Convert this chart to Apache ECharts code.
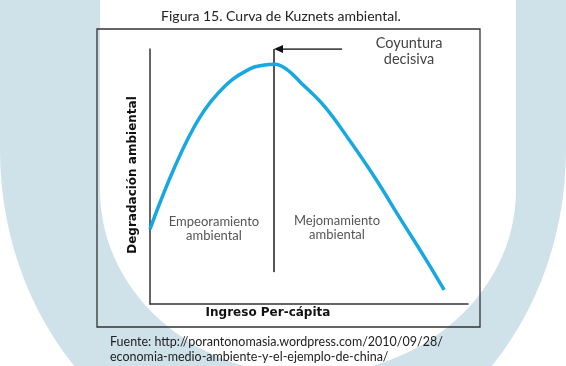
<!DOCTYPE html>
<html><head><meta charset="utf-8">
<script src="https://cdn.jsdelivr.net/npm/echarts@6/dist/echarts.min.js"></script>
<style>html,body{margin:0;padding:0;background:#fff}#c{width:566px;height:366px}</style>
</head><body><div id="c"></div>
<script>
// Curve (x: ingreso per cápita, y: degradación ambiental), arbitrary 0-100 units
const curveX = [0, 7.9, 15.7, 23.6, 31.4, 35.5, 39.3, 43.1, 47.2, 55.0, 62.9, 70.8, 78.6, 86.5, 92.5];
const curveY = [29.4, 54.1, 73.3, 85.5, 92.2, 93.6, 94.0, 91.9, 87.1, 77.3, 63.9, 49.4, 33.7, 18.0, 5.5];
// "Coyuntura decisiva" turning line and arrow
const turnX = [39, 39];
const turnY = [12.5, 100];
const arrowX = [60.4, 40.4];
const arrowY = [100, 100];
// texts
const titleText = 'Figura 15. Curva de Kuznets ambiental.';
const yName = 'Degradación ambiental';
const xName = 'Ingreso Per-cápita';
const leftLabel = ['Empeoramiento', 'ambiental'];
const rightLabel = ['Mejomamiento', 'ambiental'];
const turnLabel = ['Coyuntura', 'decisiva'];
const sourceLines = ['Fuente: http://porantonomasia.wordpress.com/2010/09/28/', 'economia-medio-ambiente-y-el-ejemplo-de-china/'];

const chart = echarts.init(document.getElementById('c'), null, {renderer: 'canvas'});
const BLUE_BG = '#cfe1e9';
function txt(x, y, text, font, fill, align, extra) {
  return Object.assign({
    type: 'text', x: x, y: y, z: 10,
    style: {text: text, font: font, fill: fill, align: align || 'center', textAlign: align || 'center',
            verticalAlign: 'middle', textVerticalAlign: 'middle'}
  }, extra || {});
}
// decorative U-shaped backdrop (half ellipse with straight arms)
function uShape(left, right, yStart, ry) {
  const cx = (left + right) / 2, rx = (right - left) / 2;
  const pts = [[left, -5], [left, yStart]];
  for (let i = 0; i <= 60; i++) {
    const a = Math.PI - Math.PI * i / 60;
    pts.push([cx + rx * Math.cos(a), yStart + ry * Math.sin(a)]);
  }
  pts.push([right, -5]);
  return pts;
}
const option = {
  backgroundColor: '#ffffff',
  animation: false,
  grid: {left: 150, right: 98, top: 49, bottom: 62},
  xAxis: {type: 'value', min: 0, max: 100,
    axisLine: {show: true, lineStyle: {color: '#333', width: 1.5}},
    axisTick: {show: false}, axisLabel: {show: false}, splitLine: {show: false}},
  yAxis: {type: 'value', min: 0, max: 100,
    axisLine: {show: true, lineStyle: {color: '#333', width: 1.5}},
    axisTick: {show: false}, axisLabel: {show: false}, splitLine: {show: false}},
  graphic: [
    {type: 'polygon', z: -10, silent: true,
      shape: {points: uShape(0, 566, 150, 320)}, style: {fill: BLUE_BG}},
    {type: 'polygon', z: -9, silent: true,
      shape: {points: uShape(100, 516, 190, 185)}, style: {fill: '#ffffff'}},
    {type: 'rect', z: 5, silent: true,
      shape: {x: 97, y: 29, width: 383, height: 298},
      style: {fill: 'none', stroke: '#333', lineWidth: 1.3}},
    txt(281, 16, titleText, '14px Lato', '#222'),
    txt(409, 43, turnLabel[0], '14.5px Lato', '#444'),
    txt(409, 59, turnLabel[1], '14.5px Lato', '#444'),
    txt(214, 222, leftLabel[0], '13px Lato', '#555'),
    txt(214, 236, leftLabel[1], '13px Lato', '#555'),
    txt(337, 221, rightLabel[0], '13px Lato', '#555'),
    txt(337, 235, rightLabel[1], '13px Lato', '#555'),
    txt(133, 175, yName, 'bold 12px "DejaVu Sans"', '#111', 'center', {rotation: Math.PI / 2}),
    txt(268, 313, xName, 'bold 12px "DejaVu Sans"', '#111'),
    txt(110, 342, sourceLines[0], '12.5px Lato', '#222', 'left'),
    txt(110, 357, sourceLines[1], '12.5px Lato', '#222', 'left')
  ],
  series: [
    {type: 'line', data: curveX.map((x, i) => [x, curveY[i]]), smooth: 0.4, symbol: 'none',
      lineStyle: {color: '#17a8e1', width: 3.5}, z: 4},
    {type: 'line', data: turnX.map((x, i) => [x, turnY[i]]), symbol: 'none',
      lineStyle: {color: '#555', width: 2}, z: 3},
    {type: 'line', data: arrowX.map((x, i) => [x, arrowY[i]]), symbol: 'none',
      lineStyle: {color: '#111', width: 1.5}, z: 4,
      markPoint: {symbol: 'triangle', symbolSize: [8, 9], symbolRotate: 90, silent: true,
        itemStyle: {color: '#111'}, label: {show: false},
        data: [{coord: [arrowX[1], arrowY[1]]}]}}
  ]
};
chart.setOption(option);
</script></body></html>
